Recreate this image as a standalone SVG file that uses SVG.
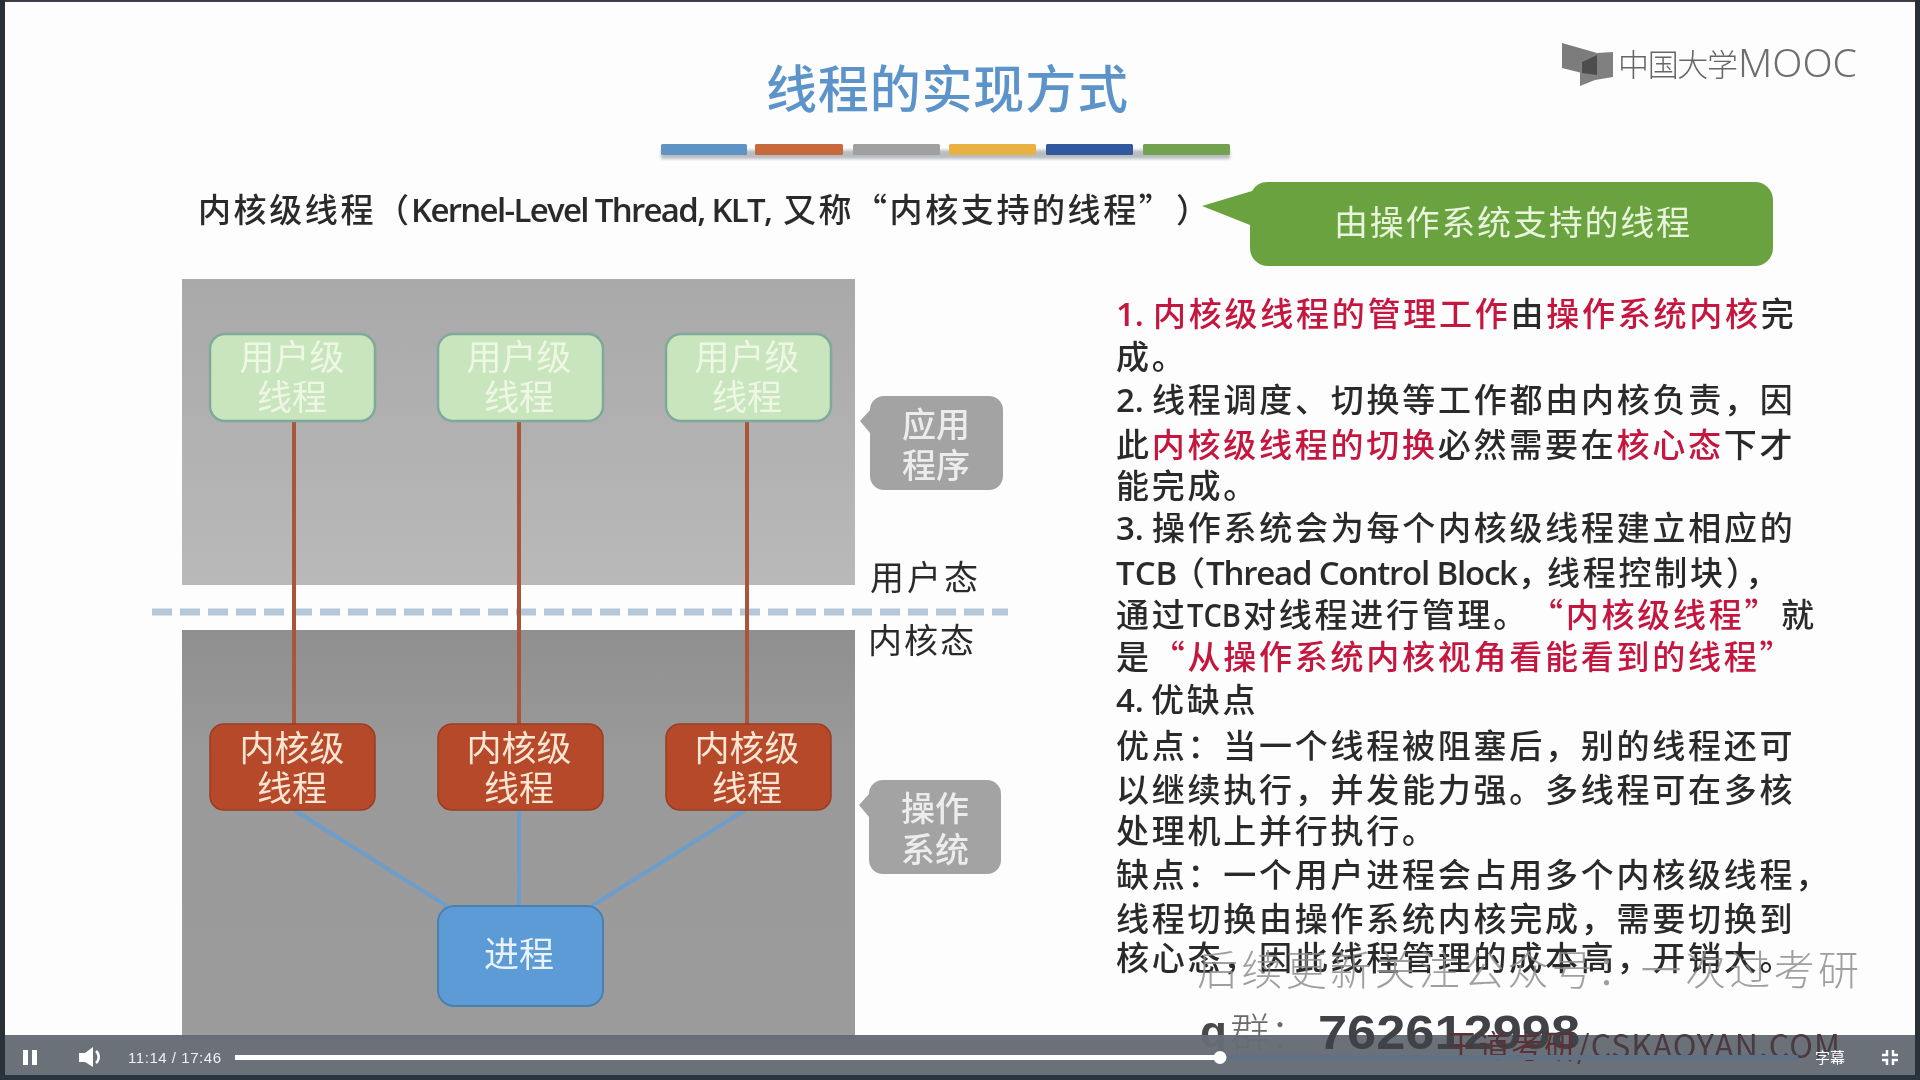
<svg xmlns="http://www.w3.org/2000/svg" width="1920" height="1080" viewBox="0 0 1920 1080">
<defs>
<filter id="soft" x="-5%" y="-5%" width="110%" height="110%"><feGaussianBlur stdDeviation="0.7"/></filter>
<filter id="shadow" x="-10%" y="-60%" width="120%" height="260%"><feGaussianBlur stdDeviation="1.5"/></filter>
<linearGradient id="kern" x1="0" y1="0" x2="0" y2="1"><stop offset="0" stop-color="#8f8f8f"/><stop offset="0.3" stop-color="#9a9a9a"/><stop offset="1" stop-color="#9b9b9b"/></linearGradient>
<linearGradient id="usr" x1="0" y1="0" x2="0" y2="1"><stop offset="0" stop-color="#a9a9a9"/><stop offset="1" stop-color="#b9b9b9"/></linearGradient>
</defs>
<style>
text{font-family:"Noto Sans CJK SC","Noto Sans",sans-serif}
.body{font-size:33px;fill:#2b2b2b;font-weight:500;letter-spacing:2.75px}
.sub{font-size:33px;fill:#2b2b2b;font-weight:500;letter-spacing:2.6px}
.lat{font-family:"Open Sans","Noto Sans",sans-serif;font-weight:600;letter-spacing:0}
.r{fill:#c5173f}
.ut{font-size:35px;fill:#eef7e4;text-anchor:middle}
.kt{font-size:35px;fill:#fbe6d4;text-anchor:middle}
.gt{font-size:34px;fill:#ececec;text-anchor:middle;font-weight:500}
.mode{font-size:34px;fill:#2b2b2b}
.un{fill:#c9e5bd;stroke:#7fa99a;stroke-width:2.5}
.kn{fill:#b5492a;stroke:#9a3d22;stroke-width:1.5}
.gn{fill:#a3a3a3}
.vl{stroke:#a9553a;stroke-width:4;fill:none}
.bl{stroke:#6d9dca;stroke-width:4;fill:none}
.ctl{fill:#fff}
.ar{font-family:"Liberation Sans",sans-serif}
</style>
<rect width="1920" height="1080" fill="#fdfdfd"/>
<g filter="url(#soft)">
<text x="766" y="108" font-size="51" fill="#5b93c9" font-weight="500" textLength="362" lengthAdjust="spacing">线程的实现方式</text>
<g id="logo">
<polygon points="1562,43 1597,53 1582,63 1582,73 1562,68" fill="#7c7c7c"/>
<polygon points="1597,53 1613,52 1613,77 1595,80 1580,86 1580,62" fill="#808080"/>
<polygon points="1582,62 1597,55 1597,75 1582,73" fill="#4e4e4e"/>
<text x="1618" y="76" font-size="31" fill="#666" font-weight="300" textLength="120" lengthAdjust="spacing">中国大学</text>
<text x="1738" y="77" font-size="38" fill="#6e6e6e" font-weight="300" textLength="119" lengthAdjust="spacingAndGlyphs" style="font-family:'Noto Sans',sans-serif">MOOC</text>
</g>
<g id="bars">
<rect x="661" y="150" width="569" height="9" fill="#b8bcc0" filter="url(#shadow)"/>
<rect x="661" y="144" width="86" height="11" rx="1.5" fill="#5f93c4"/>
<rect x="755" y="144" width="88" height="11" rx="1.5" fill="#c8693c"/>
<rect x="853" y="144" width="87" height="11" rx="1.5" fill="#a0a0a0"/>
<rect x="949" y="144" width="87" height="11" rx="1.5" fill="#e8b143"/>
<rect x="1046" y="144" width="87" height="11" rx="1.5" fill="#33599d"/>
<rect x="1143" y="144" width="87" height="11" rx="1.5" fill="#72a14f"/>
</g>
<text class="sub" y="222"><tspan x="198">内核级线程（</tspan><tspan class="lat" x="411" textLength="362" lengthAdjust="spacing">Kernel-Level Thread, KLT,</tspan><tspan x="783">又称</tspan><tspan x="854">“内核支持的线程”</tspan><tspan x="1176">）</tspan></text>
<g id="callout-green">
<path d="M1268,182H1755a18,18 0 0 1 18,18V248a18,18 0 0 1 -18,18H1268a18,18 0 0 1 -18,-18V225L1202,206L1252,191a18,18 0 0 1 16,-9Z" fill="#6ba23f"/>
<text x="1334" y="235" font-size="34" fill="#e9f4dd" textLength="356" lengthAdjust="spacing">由操作系统支持的线程</text>
</g>
<rect id="panel-user" x="182" y="279" width="673" height="306" fill="url(#usr)"/>
<rect id="panel-kernel" x="182" y="630" width="673" height="410" fill="url(#kern)"/>
<line x1="152" y1="612" x2="1008" y2="612" stroke="#b4c8da" stroke-width="7" stroke-dasharray="20 8"/>
<g id="connectors">
<line class="vl" x1="294" y1="421" x2="294" y2="724"/>
<line class="vl" x1="519" y1="421" x2="519" y2="724"/>
<line class="vl" x1="747" y1="421" x2="747" y2="724"/>
<line class="bl" x1="294" y1="810" x2="447" y2="906"/>
<line class="bl" x1="519" y1="810" x2="519" y2="906"/>
<line class="bl" x1="745" y1="810" x2="592" y2="906"/>
</g>
<g id="u1"><rect class="un" x="210" y="334" width="165" height="87" rx="15"/><text class="ut" x="292" y="370">用户级</text><text class="ut" x="292" y="410">线程</text></g>
<g id="u2"><rect class="un" x="438" y="334" width="165" height="87" rx="15"/><text class="ut" x="519" y="370">用户级</text><text class="ut" x="519" y="410">线程</text></g>
<g id="u3"><rect class="un" x="666" y="334" width="165" height="87" rx="15"/><text class="ut" x="747" y="370">用户级</text><text class="ut" x="747" y="410">线程</text></g>
<g id="k1"><rect class="kn" x="210" y="724" width="165" height="86" rx="14"/><text class="kt" x="292" y="761">内核级</text><text class="kt" x="292" y="801">线程</text></g>
<g id="k2"><rect class="kn" x="438" y="724" width="165" height="86" rx="14"/><text class="kt" x="519" y="761">内核级</text><text class="kt" x="519" y="801">线程</text></g>
<g id="k3"><rect class="kn" x="666" y="724" width="165" height="86" rx="14"/><text class="kt" x="747" y="761">内核级</text><text class="kt" x="747" y="801">线程</text></g>
<g id="process"><rect x="438" y="906" width="165" height="100" rx="16" fill="#5b9bd5" stroke="#4a80b0" stroke-width="2"/><text x="519" y="967" font-size="35" fill="#eaf2fa" text-anchor="middle">进程</text></g>
<g id="label-app"><path d="M884,396H989a14,14 0 0 1 14,14V476a14,14 0 0 1 -14,14H884a14,14 0 0 1 -14,-14V433L860,421L870,410a14,14 0 0 1 14,-14Z" class="gn"/><text class="gt" x="936" y="437">应用</text><text class="gt" x="936" y="478">程序</text></g>
<g id="label-os"><path d="M883,780H987a14,14 0 0 1 14,14V860a14,14 0 0 1 -14,14H883a14,14 0 0 1 -14,-14V817L859,805L869,794a14,14 0 0 1 14,-14Z" class="gn"/><text class="gt" x="935" y="821">操作</text><text class="gt" x="935" y="862">系统</text></g>
<text class="mode" x="870" y="590" textLength="108" lengthAdjust="spacing">用户态</text>
<text class="mode" x="868" y="653" textLength="106" lengthAdjust="spacing">内核态</text>
<g id="body">
<text class="body" y="326"><tspan class="lat r" x="1116">1.</tspan><tspan class="r" x="1153">内核级线程的管理工作</tspan>由<tspan class="r">操作系统内核</tspan>完</text>
<text class="body" x="1116" y="369">成。</text>
<text class="body" y="412"><tspan class="lat" x="1116">2.</tspan><tspan x="1152">线程调度、切换等工作都由内核负责，因</tspan></text>
<text class="body" x="1116" y="457">此<tspan class="r">内核级线程的切换</tspan>必然需要在<tspan class="r">核心态</tspan>下才</text>
<text class="body" x="1116" y="498">能完成。</text>
<text class="body" y="540"><tspan class="lat" x="1116">3.</tspan><tspan x="1152">操作系统会为每个内核级线程建立相应的</tspan></text>
<text class="body" y="585"><tspan class="lat" x="1116">TCB</tspan><tspan x="1172">（</tspan><tspan class="lat" x="1206" textLength="312" lengthAdjust="spacing">Thread Control Block</tspan><tspan x="1518">，</tspan><tspan x="1547">线程控制块</tspan><tspan x="1726">），</tspan></text>
<text class="body" y="627"><tspan x="1116">通过</tspan><tspan class="lat" x="1187" textLength="54" lengthAdjust="spacingAndGlyphs">TCB</tspan><tspan x="1243">对线程进行管理。</tspan><tspan class="r" x="1530">“内核级线程”</tspan><tspan x="1781">就</tspan></text>
<text class="body" x="1116" y="669">是<tspan class="r">“从操作系统内核视角看能看到的线程”</tspan></text>
<text class="body" y="712"><tspan class="lat" x="1116">4.</tspan><tspan x="1151">优缺点</tspan></text>
<text class="body" x="1116" y="758">优点：当一个线程被阻塞后，别的线程还可</text>
<text class="body" x="1116" y="802">以继续执行，并发能力强。多线程可在多核</text>
<text class="body" x="1116" y="843">处理机上并行执行。</text>
<text class="body" x="1116" y="887">缺点：一个用户进程会占用多个内核级线程，</text>
<text class="body" x="1116" y="931">线程切换由操作系统内核完成，需要切换到</text>
<text class="body" x="1116" y="970">核心态，因此线程管理的成本高，开销大。</text>
</g>
<text x="1197" y="985" font-size="41" fill="#8f8f8f" font-weight="300" textLength="662" lengthAdjust="spacing" opacity="0.85">后续更新关注公众号：一次过考研</text>
<text y="1047"><tspan class="ar" x="1200" font-size="44" font-weight="700" fill="#4a4a4a">q</tspan><tspan x="1230" font-size="40" fill="#6a6a6a" font-weight="300">群：</tspan></text>
</g>
<g id="player">
<rect x="0" y="0" width="1920" height="2" fill="#3a3f48"/>
<rect x="0" y="0" width="5" height="1080" fill="#2a3038"/>
<rect x="1915" y="0" width="5" height="1080" fill="#2a3038"/>
<rect x="5" y="1035" width="1910" height="40" fill="#656c75" fill-opacity="0.97"/>
<rect x="0" y="1075" width="1920" height="5" fill="#2b3540"/>
<g filter="url(#soft)">
<text class="ar" x="1318" y="1049" font-size="48" font-weight="700" fill="#3f4347" textLength="262" lengthAdjust="spacingAndGlyphs">762612998</text>
<text x="1445" y="1058" font-size="32" fill="#4a3a40" font-weight="400" textLength="395" lengthAdjust="spacing"><tspan fill="#5a3236">王道考研</tspan>/CSKAOYAN.COM</text>
</g>
<rect x="235" y="1055" width="1563" height="5" fill="#5f7087"/>
<rect x="235" y="1055" width="985" height="5" fill="#fff"/>
<circle cx="1220" cy="1057.5" r="6.5" fill="#fff"/>
<rect class="ctl" x="23" y="1050" width="5" height="15"/><rect class="ctl" x="32" y="1050" width="5" height="15"/>
<path class="ctl" d="M79,1053H85L93,1047V1067L85,1062H79Z"/>
<path d="M96,1051a8,8 0 0 1 0,12" stroke="#fff" stroke-width="2.5" fill="none"/>
<text class="ar" x="128" y="1063" font-size="15" fill="#f0f0f0" textLength="93" lengthAdjust="spacing">11:14 / 17:46</text>
<text x="1815" y="1063" font-size="15" fill="#fff">字幕</text>
<path d="M1887,1050v5h-5M1893,1050v5h5M1887,1065v-5h-5M1893,1065v-5h5" stroke="#fff" stroke-width="2.5" fill="none"/>
</g>
</svg>
